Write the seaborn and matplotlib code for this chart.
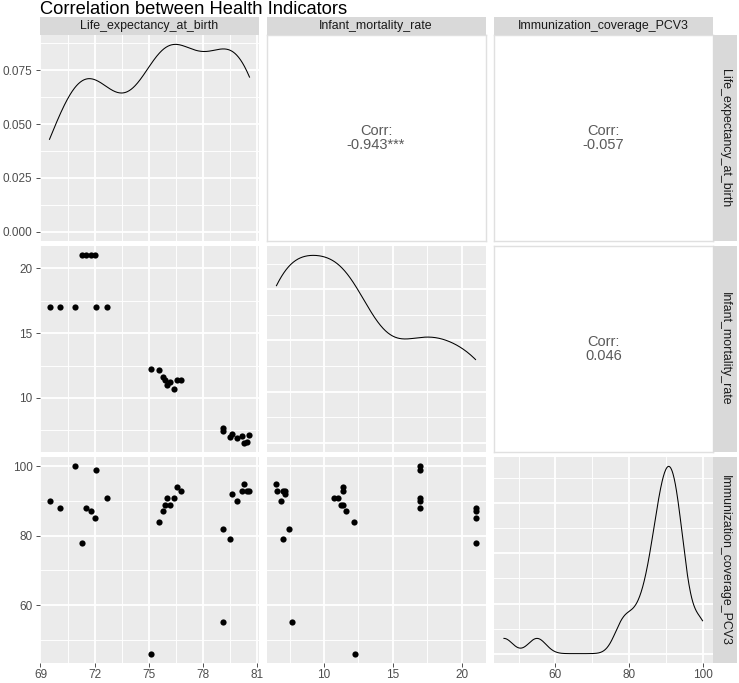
import numpy as np
import pandas as pd
import matplotlib
matplotlib.use("Agg")
import matplotlib.pyplot as plt
import matplotlib.ticker as mticker
import seaborn as sns

# ---------------- data ----------------
life = [69.5, 70.1, 70.9, 72.1, 72.7,
        71.3, 71.55, 71.8, 72.0,
        75.15, 75.6, 75.8, 75.9, 76.0, 76.2, 76.4, 76.55, 76.8,
        79.15, 79.15, 79.5, 79.65, 79.9, 80.2, 80.3, 80.45, 80.6]
infant = [17, 17, 17, 17, 17,
          21, 21, 21, 21,
          12.27, 12.15, 11.6, 11.4, 11.0, 11.2, 10.7, 11.35, 11.35,
          7.7, 7.45, 7.0, 7.2, 6.9, 7.05, 6.55, 6.6, 7.15]
immun = [90, 88, 100, 99, 91,
         78, 88, 87, 85,
         46, 84, 87, 89, 91, 89, 91, 94, 93,
         55, 82, 79, 92, 90, 93, 95, 93, 93]

variables = ["Life_expectancy_at_birth", "Infant_mortality_rate",
             "Immunization_coverage_PCV3"]
corr_labels = {(0, 1): "-0.943***", (0, 2): "-0.057", (1, 2): "0.046"}
title = "Correlation between Health Indicators"

x_ticks = [[69, 72, 75, 78, 81], [10, 15, 20], [60, 80, 100]]
y_ticks = [[0.0, 0.025, 0.05, 0.075], [10, 15, 20], [60, 80, 100]]

df = pd.DataFrame({variables[0]: life, variables[1]: infant,
                   variables[2]: immun})

# ---------------- style ----------------
plt.rcParams["font.family"] = ["Liberation Sans", "DejaVu Sans"]
PANEL_BG = "#EBEBEB"
STRIP_BG = "#D9D9D9"
TICK_COL = "#4D4D4D"
TEXT_DARK = "#1A1A1A"

W, H = 739, 683
fig = plt.figure(figsize=(W / 100, H / 100), dpi=100)

cols_px = [(39.5, 259.5), (266.5, 485.5), (494.0, 712.5)]
rows_px = [(35.0, 241.0), (246.0, 452.0), (457.0, 663.0)]


def rect(x0, x1, y0, y1):
    return [x0 / W, 1 - y1 / H, (x1 - x0) / W, (y1 - y0) / H]


def expand(vals):
    lo, hi = min(vals), max(vals)
    r = hi - lo
    return lo - 0.05 * r, hi + 0.05 * r


def nrd0_factor(x):
    x = np.asarray(x, float)
    sd = x.std(ddof=1)
    iqr = np.subtract(*np.percentile(x, [75, 25]))
    bw = 0.9 * min(sd, iqr / 1.34) * len(x) ** (-0.2)
    return bw / sd


def style_panel(ax, white=False):
    ax.set_facecolor("white" if white else PANEL_BG)
    for s in ax.spines.values():
        s.set_visible(white)
        s.set_color("#E0E0E0")
        s.set_linewidth(1.0)
    ax.tick_params(which="both", length=0, labelleft=False, labelbottom=False)
    if not white:
        ax.grid(which="major", color="white", linewidth=1.3)
        ax.grid(which="minor", color="white", linewidth=0.65)
        ax.set_axisbelow(True)


def minor_mid(ax, axis, majors):
    majors = sorted(majors)
    step = majors[1] - majors[0]
    mins = [m - step / 2 for m in majors] + [majors[-1] + step / 2]
    if axis == "x":
        ax.xaxis.set_minor_locator(mticker.FixedLocator(mins))
    else:
        ax.yaxis.set_minor_locator(mticker.FixedLocator(mins))


lims = [expand(df[v]) for v in variables]

for i in range(3):          # row
    for j in range(3):      # column
        x0, x1 = cols_px[j]
        y0, y1 = rows_px[i]
        ax = fig.add_axes(rect(x0, x1, y0, y1))
        if j > i:
            style_panel(ax, white=True)
            ax.set_xticks([]); ax.set_yticks([])
            ax.text(0.5, 0.5, "Corr:\n" + corr_labels[(i, j)],
                    ha="center", va="center", fontsize=10.5,
                    color="#5A5A5A", linespacing=1.05,
                    transform=ax.transAxes)
            continue
        style_panel(ax)
        if i == j:
            v = variables[i]
            sns.kdeplot(data=df, x=v, ax=ax, bw_method=nrd0_factor(df[v]),
                        cut=0, gridsize=512, color="black", linewidth=0.75)
            ymax = max(l.get_ydata().max() for l in ax.lines)
            ax.set_ylim(-0.05 * ymax, ymax * 1.05)
            if i == 0:
                yt = y_ticks[0]
            else:
                loc = mticker.MaxNLocator(nbins=4, steps=[1, 2, 2.5, 5, 10])
                yt = [t for t in loc.tick_values(0, ymax) if t <= ymax * 1.05]
            ax.set_yticks(yt)
            minor_mid(ax, "y", yt)
        else:
            sns.scatterplot(data=df, x=variables[j], y=variables[i], ax=ax,
                            color="black", s=20, linewidth=0, legend=False)
            ax.set_ylim(*lims[i])
            ax.set_yticks(y_ticks[i])
            minor_mid(ax, "y", y_ticks[i])
        ax.set_xlim(*lims[j])
        ax.set_xticks(x_ticks[j])
        minor_mid(ax, "x", x_ticks[j])
        ax.set_xlabel(""); ax.set_ylabel("")
        if j == 0:
            ax.tick_params(axis="y", which="major", length=3, width=0.6,
                           color="#333333", labelleft=True,
                           labelsize=8.5, labelcolor=TICK_COL, pad=2)
            if i == 0:
                ax.yaxis.set_major_formatter(mticker.FormatStrFormatter("%.3f"))
            else:
                ax.yaxis.set_major_formatter(mticker.FormatStrFormatter("%g"))
        if i == 2:
            ax.tick_params(axis="x", which="major", length=3, width=0.6,
                           color="#333333", labelbottom=True,
                           labelsize=8.5, labelcolor=TICK_COL, pad=1.5)
            ax.xaxis.set_major_formatter(mticker.FormatStrFormatter("%g"))

# top strips
for j, v in enumerate(variables):
    x0, x1 = cols_px[j]
    sax = fig.add_axes(rect(x0, x1, 17, 35))
    sax.set_facecolor(STRIP_BG)
    sax.set_xticks([]); sax.set_yticks([])
    for s in sax.spines.values():
        s.set_visible(False)
    sax.text(0.5, 0.5, v, ha="center", va="center", fontsize=8.9,
             color=TEXT_DARK, transform=sax.transAxes)

# right strips
for i, v in enumerate(variables):
    y0, y1 = rows_px[i]
    sax = fig.add_axes(rect(713, 737, y0, y1))
    sax.set_facecolor(STRIP_BG)
    sax.set_xticks([]); sax.set_yticks([])
    for s in sax.spines.values():
        s.set_visible(False)
    sax.text(0.5, 0.5, v, ha="center", va="center", fontsize=8.9,
             color=TEXT_DARK, rotation=-90, transform=sax.transAxes)

fig.text(40 / W, 1 - 1 / H, title, ha="left", va="top", fontsize=13.2,
         color="black")

fig.savefig("out.png", dpi=100)
